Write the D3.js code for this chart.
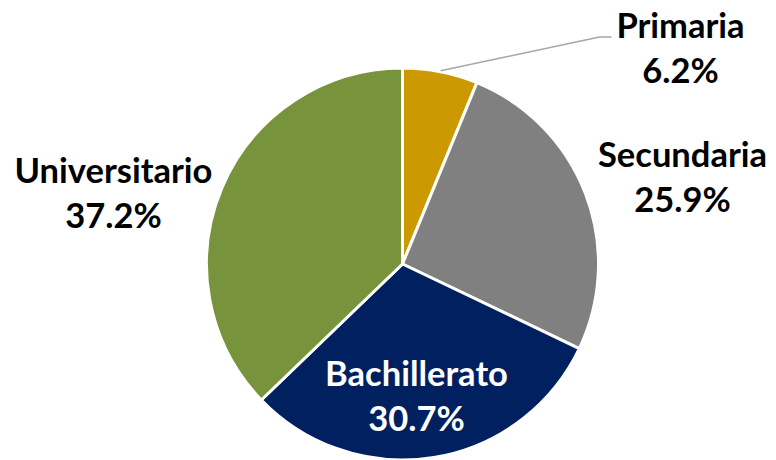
<!DOCTYPE html>
<html>
<head>
<meta charset="utf-8">
<script src="https://cdn.jsdelivr.net/npm/d3@7"></script>
<style>
  body { margin: 0; background: #fff; }
  svg text { font-family: Lato, "Open Sans", sans-serif; font-weight: 700; }
</style>
</head>
<body>
<div id="chart"></div>
<script>
const categories = ["Primaria", "Secundaria", "Bachillerato", "Universitario"]
const shares = [6.2, 25.9, 30.7, 37.2]
const colors = ["#CC9900", "#808080", "#002060", "#77933C"]
const labelColors = ["#000", "#000", "#fff", "#000"]

const width = 776, height = 460
const cx = 402.5, cy = 264, radius = 196

const data = categories.map((c, i) => ({ key: c, value: shares[i], color: colors[i], text: labelColors[i] }))

const svg = d3.select("#chart").append("svg")
    .attr("width", width)
    .attr("height", height)

const g = svg.append("g")
    .attr("transform", `translate(${cx},${cy})`)

const pie = d3.pie().sort(null).value(d => d.value)
const arc = d3.arc().innerRadius(0).outerRadius(radius)
const arcs = pie(data)

g.selectAll("path")
    .data(arcs)
    .join("path")
        .attr("d", arc)
        .attr("fill", d => d.data.color)
        .attr("stroke", "#fff")
        .attr("stroke-width", 3)
        .attr("stroke-linejoin", "round")

// label placement relative to the pie centre
const labelPos = {
    "Primaria":      [278, -226],
    "Secundaria":    [280, -97],
    "Bachillerato":  [14, 122],
    "Universitario": [-289, -81]
}

// leader line for the small slice
const prim = arcs[0]
const mid = (prim.startAngle + prim.endAngle) / 2
const edge = [Math.sin(mid) * (radius + 1), -Math.cos(mid) * (radius + 1)]
g.append("polyline")
    .attr("points", [edge, [197, -227], [209, -227]].map(p => p.join(",")).join(" "))
    .attr("fill", "none")
    .attr("stroke", "#A6A6A6")
    .attr("stroke-width", 1.5)

const labels = g.selectAll(".slice-label")
    .data(arcs)
    .join("text")
        .attr("class", "slice-label")
        .attr("text-anchor", "middle")
        .attr("fill", d => d.data.text)
        .style("font-size", "34.5px")
        .attr("transform", d => `translate(${labelPos[d.data.key][0]},${labelPos[d.data.key][1]})`)

labels.append("tspan")
    .attr("x", 0)
    .attr("y", 0)
    .text(d => d.data.key)

labels.append("tspan")
    .attr("x", 0)
    .attr("y", 45)
    .text(d => d.data.value.toFixed(1) + "%")
</script>
</body>
</html>
